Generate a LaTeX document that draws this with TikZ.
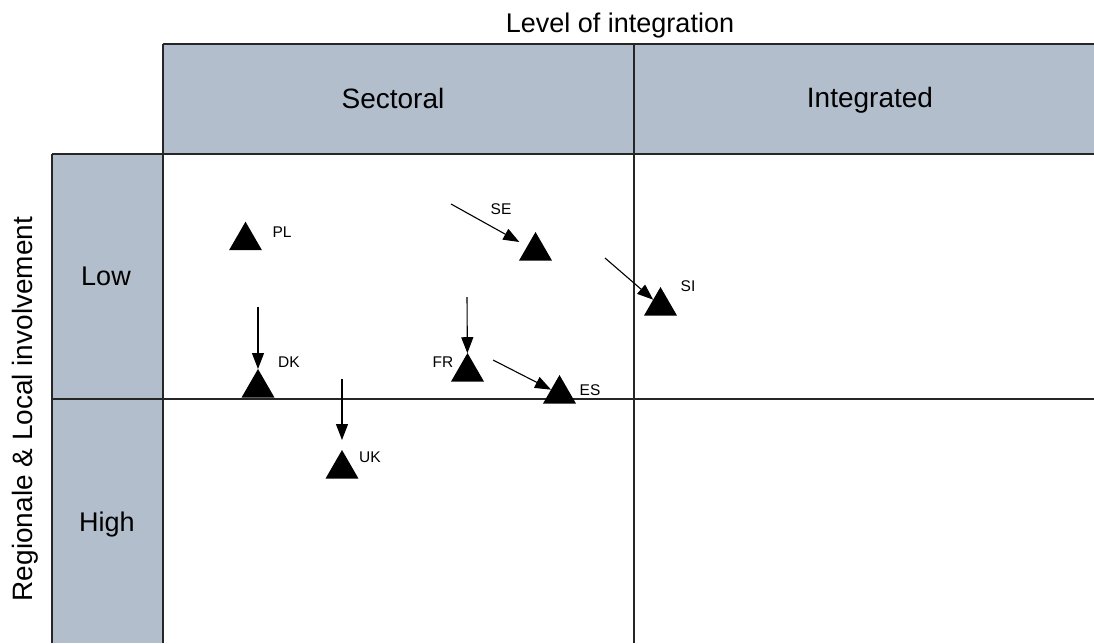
\documentclass[tikz,border=0pt]{standalone}
\usepackage{fontspec}
\setmainfont{Liberation Sans}
\usetikzlibrary{shapes.geometric,arrows.meta}
\definecolor{hdr}{RGB}{179,190,204}
\begin{document}
\begin{tikzpicture}[x=1pt,y=-1pt,
  tri/.style={regular polygon, regular polygon sides=3, fill=black, draw=none, minimum size=38pt, inner sep=0pt, outer sep=0pt},
  cc/.style={font=\fontsize{15.5}{18}\selectfont, anchor=base, inner sep=0pt},
  big/.style={font=\fontsize{27}{32}\selectfont, anchor=base, inner sep=0pt},
  bigger/.style={font=\fontsize{28}{33}\selectfont, anchor=base, inner sep=0pt},
  gridline/.style={draw=black!85, line width=1.5pt},
  mv/.style={-{Triangle[length=16pt,width=12pt]}, line width=1.1pt}]
\useasboundingbox (0,0) rectangle (1094,643);
% shaded header and side column
\fill[hdr] (163,44) rectangle (1094,154);
\fill[hdr] (52,154) rectangle (163,643);
% grid
\draw[gridline] (163,44) -- (1094,44);
\draw[gridline] (163,44) -- (163,643);
\draw[gridline] (52,154) -- (1094,154);
\draw[gridline] (52,154) -- (52,643);
\draw[gridline] (52,399) -- (1094,399);
\draw[gridline] (634,44) -- (634,643);
% headings
\node[big] (title) at (620,32) {Level of integration};
\node[bigger] (sect) at (393,108) {Sectoral};
\node[bigger] (integ) at (870,107) {Integrated};
\node[big] (low) at (106,285) {Low};
\node[big] (high) at (107,531) {High};
\node[bigger, rotate=90] (ylab) at (32,409) {Regionale \& Local involvement};
% triangles
\node[tri] (PL) at (245.5,240.7) {};
\node[tri] (SE) at (535.5,251) {};
\node[tri] (SI) at (660.5,306) {};
\node[tri] (DK) at (258,388) {};
\node[tri] (FR) at (467.5,372) {};
\node[tri] (ES) at (559.5,394) {};
\node[tri] (UK) at (342,469) {};
% labels
\node[cc] (lPL) at (282,237) {PL};
\node[cc] (lSE) at (501,214) {SE};
\node[cc] (lSI) at (688,291) {SI};
\node[cc] (lDK) at (289,367) {DK};
\node[cc] (lFR) at (443,367) {FR};
\node[cc] (lES) at (590,395) {ES};
\node[cc] (lUK) at (370,462) {UK};
% arrow starts
\coordinate (sSE) at (451,204);
\coordinate (sSI) at (605,258);
\coordinate (sDK) at (258,307);
\coordinate (sFR) at (467,297);
\coordinate (sES) at (493,360);
\coordinate (sUK) at (342,379);
% arrows
\draw[mv, shorten >=9pt] (sSE) -- (SE);
\draw[mv] (sSI) -- (SI);
\draw[mv] (sDK) -- (DK);
\draw[mv] (sFR) -- (FR);
\draw[mv] (sES) -- (ES);
\draw[mv, shorten >=10pt] (sUK) -- (UK);
\end{tikzpicture}
\end{document}
